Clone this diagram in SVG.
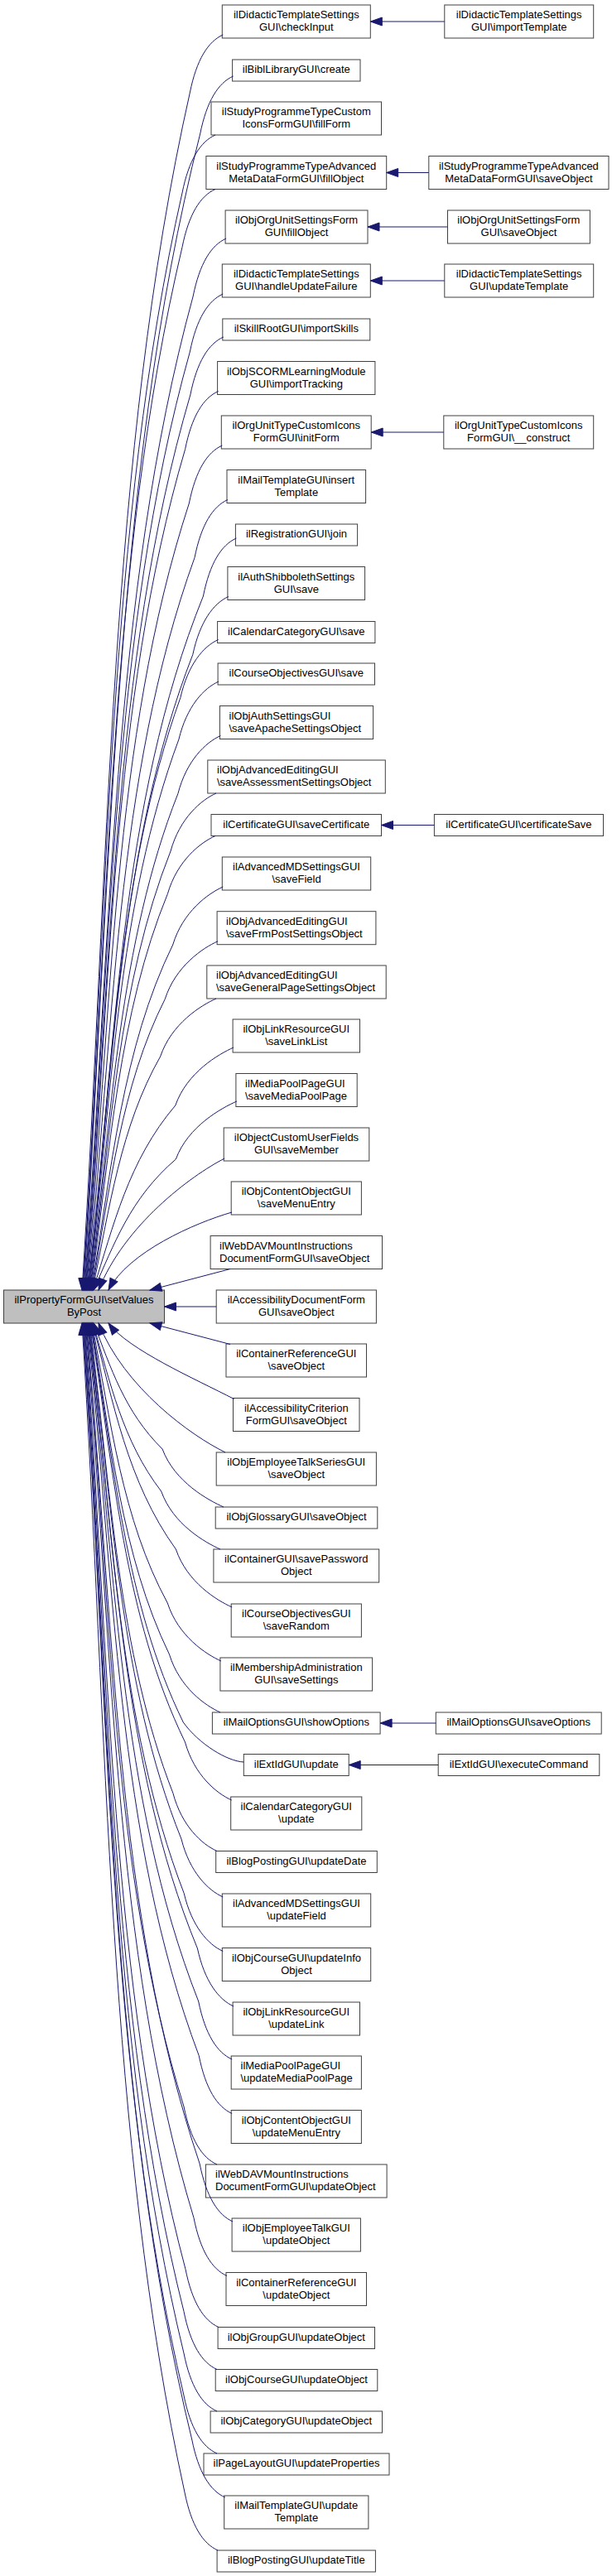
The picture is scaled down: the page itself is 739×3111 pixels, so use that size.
<svg xmlns="http://www.w3.org/2000/svg" width="739" height="3111" viewBox="0 0 739 3111">
<style>
.n rect{fill:#ffffff;stroke:#404040;stroke-width:1}
.m rect{fill:#bfbfbf;stroke:#404040;stroke-width:1}
text{font-family:"Liberation Sans",Arial,Helvetica,sans-serif;font-size:13px;fill:#000000}
.c{text-anchor:middle}
#edges path{fill:none;stroke:#191970;stroke-width:1;marker-end:url(#ah)}
</style>
<defs>
<marker id="ah" markerUnits="userSpaceOnUse" markerWidth="14" markerHeight="10" viewBox="0 0 14 10" refX="14" refY="5" orient="auto" overflow="visible">
<path d="M0,0 L14,5 L0,10 Z" fill="#191970" stroke="#191970" stroke-width="1"/>
</marker>
</defs>
<rect x="0" y="0" width="739" height="3111" fill="#ffffff"/>

<g id="main" class="m"><rect x="4.5" y="1558" width="194" height="40"/><text class="c" x="101.5" y="1574">ilPropertyFormGUI\setValues</text><text class="c" x="101.5" y="1589">ByPost</text></g>

<g id="n1" class="n"><rect x="268.3" y="6" width="179" height="40"/><text class="c" x="357.8" y="22">ilDidacticTemplateSettings</text><text class="c" x="357.8" y="37">GUI\checkInput</text></g>
<g id="r1" class="n"><rect x="536.8" y="6" width="179.9" height="40"/><text class="c" x="626.7" y="22">ilDidacticTemplateSettings</text><text class="c" x="626.7" y="37">GUI\importTemplate</text></g>
<g id="n2" class="n"><rect x="280.6" y="72" width="154.4" height="26"/><text class="c" x="357.8" y="88">ilBiblLibraryGUI\create</text></g>
<g id="n3" class="n"><rect x="255" y="123" width="205.5" height="40"/><text class="c" x="357.8" y="139">ilStudyProgrammeTypeCustom</text><text class="c" x="357.8" y="154">IconsFormGUI\fillForm</text></g>
<g id="n4" class="n"><rect x="248.9" y="188.5" width="217.8" height="40"/><text class="c" x="357.8" y="204.5">ilStudyProgrammeTypeAdvanced</text><text class="c" x="357.8" y="219.5">MetaDataFormGUI\fillObject</text></g>
<g id="r4" class="n"><rect x="517.8" y="188.5" width="217.2" height="40"/><text class="c" x="626.4" y="204.5">ilStudyProgrammeTypeAdvanced</text><text class="c" x="626.4" y="219.5">MetaDataFormGUI\saveObject</text></g>
<g id="n5" class="n"><rect x="272.1" y="254" width="171.9" height="40"/><text class="c" x="358" y="270">ilObjOrgUnitSettingsForm</text><text class="c" x="358" y="285">GUI\fillObject</text></g>
<g id="r5" class="n"><rect x="540.5" y="254" width="171.9" height="40"/><text class="c" x="626.4" y="270">ilObjOrgUnitSettingsForm</text><text class="c" x="626.4" y="285">GUI\saveObject</text></g>
<g id="n6" class="n"><rect x="268.3" y="319" width="179" height="40"/><text class="c" x="357.8" y="335">ilDidacticTemplateSettings</text><text class="c" x="357.8" y="350">GUI\handleUpdateFailure</text></g>
<g id="r6" class="n"><rect x="536.8" y="319" width="179.9" height="40"/><text class="c" x="626.7" y="335">ilDidacticTemplateSettings</text><text class="c" x="626.7" y="350">GUI\updateTemplate</text></g>
<g id="n7" class="n"><rect x="268.8" y="385" width="178" height="26"/><text class="c" x="357.8" y="401">ilSkillRootGUI\importSkills</text></g>
<g id="n8" class="n"><rect x="262.6" y="436.5" width="190.3" height="40"/><text class="c" x="357.8" y="452.5">ilObjSCORMLearningModule</text><text class="c" x="357.8" y="467.5">GUI\importTracking</text></g>
<g id="n9" class="n"><rect x="267.3" y="502" width="180.9" height="40"/><text class="c" x="357.8" y="518">ilOrgUnitTypeCustomIcons</text><text class="c" x="357.8" y="533">FormGUI\initForm</text></g>
<g id="r9" class="n"><rect x="535.8" y="502" width="180.9" height="40"/><text class="c" x="626.2" y="518">ilOrgUnitTypeCustomIcons</text><text class="c" x="626.2" y="533">FormGUI\__construct</text></g>
<g id="n10" class="n"><rect x="274" y="567.5" width="167.6" height="40"/><text class="c" x="357.8" y="583.5">ilMailTemplateGUI\insert</text><text class="c" x="357.8" y="598.5">Template</text></g>
<g id="n11" class="n"><rect x="284.4" y="633" width="147.2" height="26"/><text class="c" x="358" y="649">ilRegistrationGUI\join</text></g>
<g id="n12" class="n"><rect x="274.9" y="684.5" width="165.7" height="40"/><text class="c" x="357.8" y="700.5">ilAuthShibbolethSettings</text><text class="c" x="357.8" y="715.5">GUI\save</text></g>
<g id="n13" class="n"><rect x="262.6" y="750.5" width="190.3" height="26"/><text class="c" x="357.8" y="766.5">ilCalendarCategoryGUI\save</text></g>
<g id="n14" class="n"><rect x="263.1" y="801" width="189.4" height="26"/><text class="c" x="357.8" y="817">ilCourseObjectivesGUI\save</text></g>
<g id="n15" class="n"><rect x="265.4" y="852.5" width="185.2" height="40"/><text x="276.5" y="868.5">ilObjAuthSettingsGUI</text><text x="276.5" y="883.5">\saveApacheSettingsObject</text></g>
<g id="n16" class="n"><rect x="250.8" y="918" width="214.5" height="40"/><text x="262" y="934">ilObjAdvancedEditingGUI</text><text x="262" y="949">\saveAssessmentSettingsObject</text></g>
<g id="n17" class="n"><rect x="255" y="983.5" width="205.5" height="26"/><text class="c" x="357.8" y="999.5">ilCertificateGUI\saveCertificate</text></g>
<g id="r17" class="n"><rect x="524.4" y="983.5" width="204.1" height="26"/><text class="c" x="626.4" y="999.5">ilCertificateGUI\certificateSave</text></g>
<g id="n18" class="n"><rect x="268.3" y="1035" width="179.4" height="40"/><text class="c" x="358" y="1051">ilAdvancedMDSettingsGUI</text><text class="c" x="358" y="1066">\saveField</text></g>
<g id="n19" class="n"><rect x="262.1" y="1100.7" width="191.8" height="40"/><text x="273" y="1116.7">ilObjAdvancedEditingGUI</text><text x="273" y="1131.7">\saveFrmPostSettingsObject</text></g>
<g id="n20" class="n"><rect x="249.8" y="1166" width="216.4" height="40"/><text x="261" y="1182">ilObjAdvancedEditingGUI</text><text x="261" y="1197">\saveGeneralPageSettingsObject</text></g>
<g id="n21" class="n"><rect x="281.1" y="1231" width="153.4" height="40"/><text class="c" x="357.8" y="1247">ilObjLinkResourceGUI</text><text class="c" x="357.8" y="1262">\saveLinkList</text></g>
<g id="n22" class="n"><rect x="284.9" y="1296.5" width="146.3" height="40"/><text x="296" y="1312.5">ilMediaPoolPageGUI</text><text x="296" y="1327.5">\saveMediaPoolPage</text></g>
<g id="n23" class="n"><rect x="270.2" y="1362" width="175.6" height="40"/><text class="c" x="358" y="1378">ilObjectCustomUserFields</text><text class="c" x="358" y="1393">GUI\saveMember</text></g>
<g id="n24" class="n"><rect x="279.2" y="1427" width="157.2" height="40"/><text class="c" x="357.8" y="1443">ilObjContentObjectGUI</text><text class="c" x="357.8" y="1458">\saveMenuEntry</text></g>
<g id="n25" class="n"><rect x="254.1" y="1492.5" width="207.4" height="40"/><text x="265" y="1508.5">ilWebDAVMountInstructions</text><text x="265" y="1523.5">DocumentFormGUI\saveObject</text></g>
<g id="n26" class="n"><rect x="261.2" y="1558" width="193.2" height="40"/><text class="c" x="357.8" y="1574">ilAccessibilityDocumentForm</text><text class="c" x="357.8" y="1589">GUI\saveObject</text></g>
<g id="n27" class="n"><rect x="273" y="1623" width="169.5" height="40"/><text class="c" x="357.8" y="1639">ilContainerReferenceGUI</text><text class="c" x="357.8" y="1654">\saveObject</text></g>
<g id="n28" class="n"><rect x="281.5" y="1688.5" width="152.5" height="40"/><text class="c" x="357.8" y="1704.5">ilAccessibilityCriterion</text><text class="c" x="357.8" y="1719.5">FormGUI\saveObject</text></g>
<g id="n29" class="n"><rect x="261.2" y="1754" width="193.2" height="40"/><text class="c" x="357.8" y="1770">ilObjEmployeeTalkSeriesGUI</text><text class="c" x="357.8" y="1785">\saveObject</text></g>
<g id="n30" class="n"><rect x="260.2" y="1820" width="195.6" height="26"/><text class="c" x="358" y="1836">ilObjGlossaryGUI\saveObject</text></g>
<g id="n31" class="n"><rect x="257.9" y="1871" width="199.8" height="40"/><text class="c" x="357.8" y="1887">ilContainerGUI\savePassword</text><text class="c" x="357.8" y="1902">Object</text></g>
<g id="n32" class="n"><rect x="279.2" y="1937" width="157.2" height="40"/><text class="c" x="357.8" y="1953">ilCourseObjectivesGUI</text><text class="c" x="357.8" y="1968">\saveRandom</text></g>
<g id="n33" class="n"><rect x="265.9" y="2002" width="183.7" height="40"/><text class="c" x="357.8" y="2018">ilMembershipAdministration</text><text class="c" x="357.8" y="2033">GUI\saveSettings</text></g>
<g id="n34" class="n"><rect x="256.4" y="2068" width="202.7" height="26"/><text class="c" x="357.8" y="2084">ilMailOptionsGUI\showOptions</text></g>
<g id="r34" class="n"><rect x="526.3" y="2068" width="199.9" height="26"/><text class="c" x="626.2" y="2084">ilMailOptionsGUI\saveOptions</text></g>
<g id="n35" class="n"><rect x="294.3" y="2118.5" width="126.9" height="26"/><text class="c" x="357.8" y="2134.5">ilExtIdGUI\update</text></g>
<g id="r35" class="n"><rect x="529.2" y="2118.5" width="194.6" height="26"/><text class="c" x="626.5" y="2134.5">ilExtIdGUI\executeCommand</text></g>
<g id="n36" class="n"><rect x="278.7" y="2170" width="158.1" height="40"/><text class="c" x="357.8" y="2186">ilCalendarCategoryGUI</text><text class="c" x="357.8" y="2201">\update</text></g>
<g id="n37" class="n"><rect x="260.7" y="2235.5" width="194.6" height="26"/><text class="c" x="358" y="2251.5">ilBlogPostingGUI\updateDate</text></g>
<g id="n38" class="n"><rect x="268.3" y="2287" width="179.4" height="40"/><text class="c" x="358" y="2303">ilAdvancedMDSettingsGUI</text><text class="c" x="358" y="2318">\updateField</text></g>
<g id="n39" class="n"><rect x="268.3" y="2352.5" width="179.4" height="40"/><text class="c" x="358" y="2368.5">ilObjCourseGUI\updateInfo</text><text class="c" x="358" y="2383.5">Object</text></g>
<g id="n40" class="n"><rect x="281.1" y="2418" width="153.4" height="40"/><text class="c" x="357.8" y="2434">ilObjLinkResourceGUI</text><text class="c" x="357.8" y="2449">\updateLink</text></g>
<g id="n41" class="n"><rect x="279.2" y="2483" width="157.2" height="40"/><text x="290.5" y="2499">ilMediaPoolPageGUI</text><text x="290.5" y="2514">\updateMediaPoolPage</text></g>
<g id="n42" class="n"><rect x="279.2" y="2548.5" width="157.2" height="40"/><text class="c" x="357.8" y="2564.5">ilObjContentObjectGUI</text><text class="c" x="357.8" y="2579.5">\updateMenuEntry</text></g>
<g id="n43" class="n"><rect x="248.4" y="2614" width="218.7" height="40"/><text x="260" y="2630">ilWebDAVMountInstructions</text><text x="260" y="2645">DocumentFormGUI\updateObject</text></g>
<g id="n44" class="n"><rect x="280.1" y="2679" width="155.3" height="40"/><text class="c" x="357.8" y="2695">ilObjEmployeeTalkGUI</text><text class="c" x="357.8" y="2710">\updateObject</text></g>
<g id="n45" class="n"><rect x="273" y="2744.5" width="169.5" height="40"/><text class="c" x="357.8" y="2760.5">ilContainerReferenceGUI</text><text class="c" x="357.8" y="2775.5">\updateObject</text></g>
<g id="n46" class="n"><rect x="263.1" y="2810.5" width="189.4" height="26"/><text class="c" x="357.8" y="2826.5">ilObjGroupGUI\updateObject</text></g>
<g id="n47" class="n"><rect x="260.2" y="2861.5" width="195.6" height="26"/><text class="c" x="358" y="2877.5">ilObjCourseGUI\updateObject</text></g>
<g id="n48" class="n"><rect x="254.1" y="2912" width="207.4" height="26"/><text class="c" x="357.8" y="2928">ilObjCategoryGUI\updateObject</text></g>
<g id="n49" class="n"><rect x="246" y="2963" width="224" height="26"/><text class="c" x="358" y="2979">ilPageLayoutGUI\updateProperties</text></g>
<g id="n50" class="n"><rect x="270.7" y="3014" width="174.2" height="40"/><text class="c" x="357.8" y="3030">ilMailTemplateGUI\update</text><text class="c" x="357.8" y="3045">Template</text></g>
<g id="n51" class="n"><rect x="262.1" y="3080" width="191.3" height="26"/><text class="c" x="357.8" y="3096">ilBlogPostingGUI\updateTitle</text></g>

<g id="edges">
<path d="M536.8,26 L447.3,26"/>
<path d="M517.8,208.5 L466.7,208.5"/>
<path d="M540.5,274 L444,274"/>
<path d="M536.8,339 L447.3,339"/>
<path d="M535.8,522 L448.2,522"/>
<path d="M524.4,996.5 L460.5,996.5"/>
<path d="M526.3,2081 L459.1,2081"/>
<path d="M529.2,2131.5 L421.2,2131.5"/>
<path d="M261.2,1578 L198.5,1578"/>
<path d="M269.3,42 C251.3,50 237.3,72 229.3,112 C131.6,545.8 131.6,1051.9 99,1558"/>
<path d="M281.6,92 C263.6,100 249.6,122 241.6,162 C135.2,580.8 135.2,1069.4 99.7,1558"/>
<path d="M260,163 C242,171 228,193 220,233 C130.2,630.5 130.2,1094.2 100.3,1558"/>
<path d="M260,228.5 C242,236.5 228,258.5 220,298.5 C130.8,676.4 130.8,1117.2 101,1558"/>
<path d="M273.1,288 C255.1,296 241.1,318 233.1,358 C134.6,718 134.6,1138 101.7,1558"/>
<path d="M269.3,355 C251.3,363 237.3,385 229.3,425 C134,764.9 134,1161.4 102.3,1558"/>
<path d="M269.8,407 C251.8,415 237.8,437 229.8,477 C134.7,801.3 134.7,1179.6 103,1558"/>
<path d="M263.6,472.5 C245.6,480.5 231.6,502.5 223.6,542.5 C133.7,847.2 133.7,1202.6 103.7,1558"/>
<path d="M268.3,538 C250.3,546 236.3,568 228.3,608 C135.3,893 135.3,1225.5 104.3,1558"/>
<path d="M275,603.5 C257,611.5 243,633.5 235,673.5 C139,938.9 137.5,1248.4 105,1558"/>
<path d="M285.4,650 C267.4,658 253.4,680 245.4,720 C143.8,971.4 140.6,1264.7 105.7,1558"/>
<path d="M275.9,720.5 C257.9,728.5 241.4,750.5 232.8,790.5 C143.1,1020.8 137.9,1289.4 106.3,1558"/>
<path d="M263.6,772.5 C245.6,780.5 227,802.5 217.9,842.5 C140.7,1057.2 134.7,1307.6 107,1558"/>
<path d="M264.1,823 C246.1,831 225.5,853 215.9,893 C141.9,1092.5 134.7,1325.3 107.7,1558"/>
<path d="M266.4,888.5 C248.4,896.5 225.2,918.5 214.9,958.5 C143.8,1138.4 134.9,1348.2 108.3,1558"/>
<path d="M261,958 C243,966 217,988 206,1028 C143,1187 133.3,1372.5 109,1558"/>
<path d="M260,1009.5 C242,1017.5 213.9,1039.5 202.4,1079.5 C143.4,1223.1 132.9,1390.5 109.7,1558"/>
<path d="M269.3,1071 C251.3,1079 220.8,1101 208.7,1141 C147.5,1266.1 134.9,1412 110.3,1558"/>
<path d="M263.1,1136.7 C245.1,1144.7 212,1166.7 199.2,1206.7 C145.8,1312.1 133,1435 111,1558"/>
<path d="M261,1206 C243,1214 207.1,1236 193.6,1276 C145.4,1360.6 132.2,1459.3 111.7,1558"/>
<path d="M282.1,1265 C264.1,1273 225.8,1295 211.8,1335 C154.8,1401.9 137.2,1480 112.3,1558"/>
<path d="M285.9,1330 C267.9,1338 227,1360 212.3,1400 C157,1447.4 137.8,1502.7 113,1558"/>
<path d="M271.2,1399 C230,1420 150,1480 119,1558"/>
<path d="M280,1464 C235,1477 155,1512 131,1558"/>
<path d="M278,1532.5 L181,1558"/>
<path d="M278,1623.5 L181,1598"/>
<path d="M282.5,1689.5 C235,1665 155,1630 131,1598"/>
<path d="M272,1754 C231,1734 150,1676 119,1598"/>
<path d="M270,1820 C252,1812 210.9,1790 196.1,1750 C149.9,1704.4 133.8,1651.2 113,1598"/>
<path d="M266,1871 C248,1863 208.9,1841 194.7,1801 C147.9,1740.1 132.9,1669.1 112.3,1598"/>
<path d="M280.2,1941 C262.2,1933 225.9,1911 212.4,1871 C153.4,1789.1 136.9,1693.6 111.7,1598"/>
<path d="M266.9,2006 C248.9,1998 215.2,1976 202.3,1936 C147.3,1834.6 133.8,1716.3 111,1598"/>
<path d="M266,2068 C248,2060 216.8,2038 204.5,1998 C146.3,1878 133.9,1738 110.3,1598"/>
<path d="M294.3,2128 C274,2127 240,2106 221.3,2080 C150.7,1935.4 137.6,1766.7 109.7,1598"/>
<path d="M279.7,2174 C261.7,2166 234.7,2144 223.5,2104 C149.8,1952.2 137.6,1775.1 109,1598"/>
<path d="M262,2235.5 C244,2227.5 219.5,2205.5 208.9,2165.5 C142.6,1995.3 133.5,1796.6 108.3,1598"/>
<path d="M269.3,2291 C251.3,2283 229,2261 219,2221 C144.1,2034.1 135.5,1816.1 107.7,1598"/>
<path d="M269.3,2356.5 C251.3,2348.5 231.6,2326.5 222.2,2286.5 C142.7,2080 135.8,1839 107,1598"/>
<path d="M282.1,2423 C264.1,2415 247.1,2393 238.4,2353 C145.2,2126.5 139.3,1862.3 106.3,1598"/>
<path d="M280.2,2487 C262.2,2479 247.8,2457 239.7,2417 C143,2171.3 139.2,1884.7 105.7,1598"/>
<path d="M280.2,2552.5 C262.2,2544.5 248.2,2522.5 240.2,2482.5 C140.3,2217.2 138.8,1907.6 105,1598"/>
<path d="M262,2614 C244,2606 230,2584 222,2544 C133.7,2260.2 133.7,1929.1 104.3,1598"/>
<path d="M281.1,2683 C263.1,2675 249.1,2653 241.1,2613 C138.1,2308.5 138.1,1953.3 103.7,1598"/>
<path d="M274,2748.5 C256,2740.5 242,2718.5 234,2678.5 C135.8,2354.4 135.8,1976.2 103,1598"/>
<path d="M264,2810.5 C246,2802.5 232,2780.5 224,2740.5 C132.7,2397.8 132.7,1997.9 102.3,1598"/>
<path d="M262,2861.5 C244,2853.5 230,2831.5 222,2791.5 C131.8,2433.5 131.8,2015.7 101.7,1598"/>
<path d="M262,2912 C244,2904 230,2882 222,2842 C131.3,2468.8 131.3,2033.4 101,1598"/>
<path d="M262,2963 C244,2955 230,2933 222,2893 C130.7,2504.5 130.7,2051.3 100.3,1598"/>
<path d="M271.7,3016 C253.7,3008 239.7,2986 231.7,2946 C132.7,2541.6 132.7,2069.8 99.7,1598"/>
<path d="M263,3080 C245,3072 231,3050 223,3010 C130,2586.4 130,2092.2 99,1598"/>
</g>
</svg>
